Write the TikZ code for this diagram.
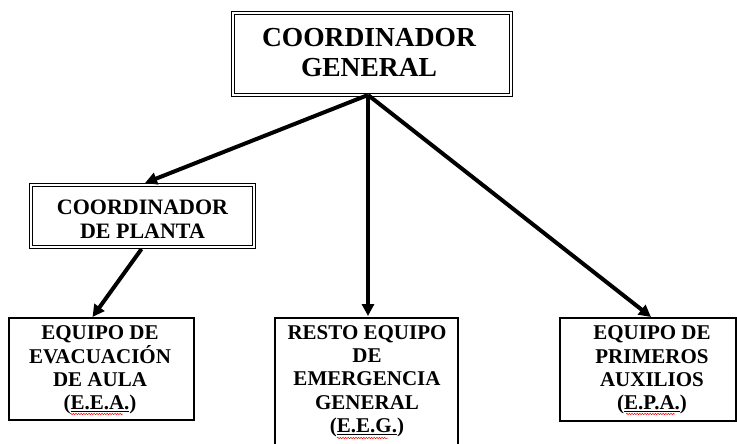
\documentclass[tikz,border=0pt]{standalone}
\usepackage{fontspec}
\setmainfont{Liberation Serif}
\usetikzlibrary{arrows.meta,calc,decorations.pathmorphing}
\begin{document}
\begin{tikzpicture}[x=1pt,y=-1pt,
  dbox/.style={draw=black, line width=1pt, double=white, double distance=2pt, inner sep=0pt, outer sep=0pt},
  sbox/.style={draw=black, line width=1.3pt, inner sep=0pt, outer sep=0pt},
  lbl/.style={align=center, font=\bfseries\fontsize{21}{23.3}\selectfont, inner sep=0pt},
  arr/.style={line width=4pt, -{Triangle[length=12pt,width=12pt]}},
  squig/.style={red, line width=0.5pt, decorate, decoration={snake, amplitude=0.7pt, segment length=2.6pt}}
]
\useasboundingbox (0,0) rectangle (737,444);
\clip (0,0) rectangle (737,444);
% boxes
\node[dbox, minimum width=278pt, minimum height=82pt] (cg) at (372,54) {};
\node[dbox, minimum width=223pt, minimum height=62pt] (cp) at (142.5,216) {};
\node[sbox, minimum width=185pt, minimum height=102pt] (eea) at (101.5,369) {};
\node[sbox, minimum width=183pt, minimum height=140pt] (reg) at (366.5,388) {};
\node[sbox, minimum width=176pt, minimum height=103pt] (epa) at (648,369.5) {};
% labels
\node[lbl, font=\bfseries\fontsize{27.5}{30}\selectfont] (tcg) at (369,53) {COORDINADOR\\GENERAL};
\node[lbl, font=\bfseries\fontsize{22}{24}\selectfont] (tcp) at (142.5,219) {COORDINADOR\\DE PLANTA};
\node[lbl] (teea) at (100,370) {EQUIPO DE\\EVACUACIÓN\\DE AULA\\(\underline{E.E.A.})};
\node[lbl] (treg) at (367,381) {RESTO EQUIPO\\DE\\EMERGENCIA\\GENERAL\\(\underline{E.E.G.})};
\node[lbl] (tepa) at (652,370) {EQUIPO DE\\PRIMEROS\\AUXILIOS\\(\underline{E.P.A.})};
% spell-check squiggles
\coordinate (s1a) at (70,414); \coordinate (s1b) at (123,414);
\coordinate (s2a) at (337,438); \coordinate (s2b) at (388,438);
\coordinate (s3a) at (626,414); \coordinate (s3b) at (675,414);
\draw[squig] (s1a) -- (s1b);
\draw[squig] (s2a) -- (s2b);
\draw[squig] (s3a) -- (s3b);
% connectors
\coordinate (src) at (368,95);
\draw[arr] (src) -- ($(cp.north)+(2.5,-2)$);
\draw[arr] (src) -- ($(reg.north)+(1.5,-2)$);
\draw[arr] (src) -- ($(epa.north)+(3,-1)$);
\draw[arr] ($(cp.south)+(-1,2)$) -- ($(eea.north)+(-9,-1)$);
\end{tikzpicture}
\end{document}
